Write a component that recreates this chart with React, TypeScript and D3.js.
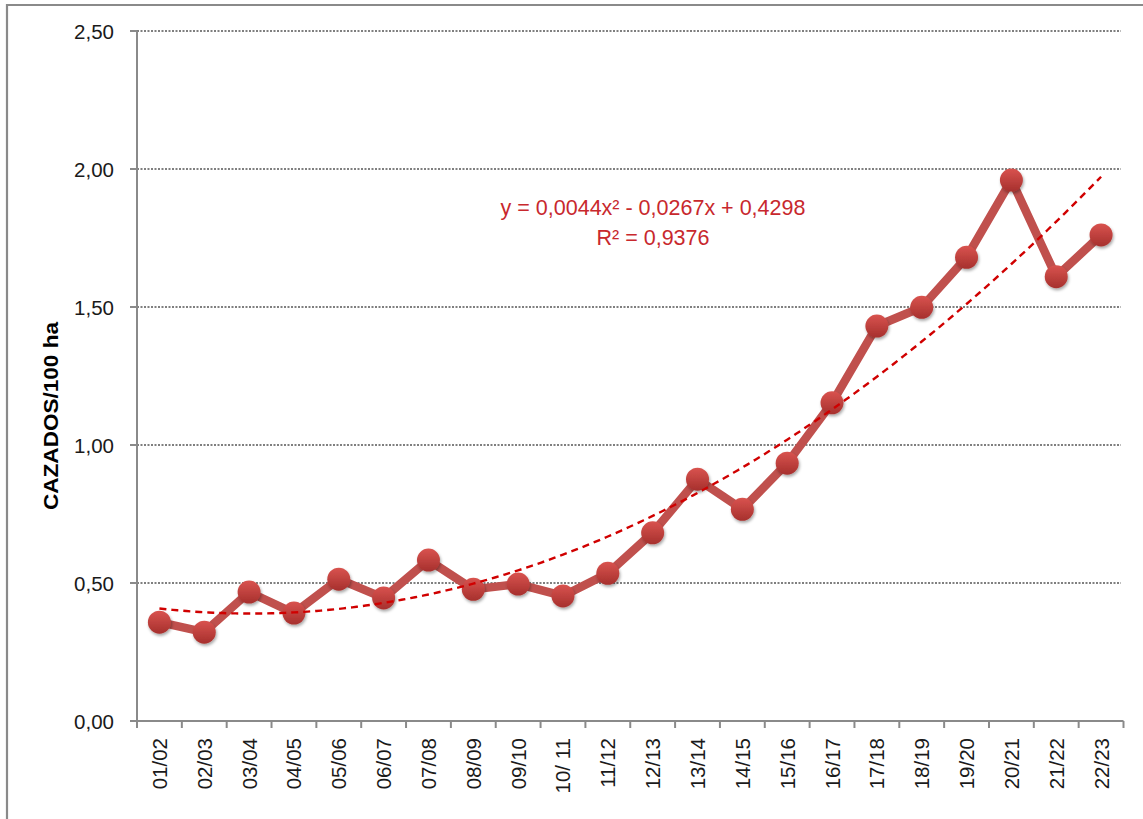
import React from "react";
import * as d3 from "d3";

const seasons = ["01/02","02/03","03/04","04/05","05/06","06/07","07/08","08/09","09/10","10/ 11","11/12","12/13","13/14","14/15","15/16","16/17","17/18","18/19","19/20","20/21","21/22","22/23"];
const cazados = [0.358,0.322,0.467,0.391,0.514,0.446,0.583,0.477,0.496,0.453,0.535,0.682,0.876,0.767,0.934,1.153,1.431,1.499,1.680,1.960,1.610,1.761];
const yTicks = [0,0.5,1,1.5,2,2.5];
const trendCoef = [0.0044,-0.0267,0.4298];
const eqLine1 = "y = 0,0044x² - 0,0267x + 0,4298";
const eqLine2 = "R² = 0,9376";
const yTitle = "CAZADOS/100 ha";

const W = 1143, H = 819;
const left = 137, right = 1123.5, top = 31, bottom = 721;

export default function App() {
  const x = d3.scaleBand<string>().domain(seasons).range([left, right]).padding(0);
  const y = d3.scaleLinear().domain([0, 2.5]).range([bottom, top]);
  const cx = (s: string) => (x(s) as number) + x.bandwidth() / 2;
  const fmt = (v: number) => v.toFixed(2).replace(".", ",");

  const line = d3.line<number>().x((_, i) => cx(seasons[i])).y((v) => y(v));
  const xi = d3.scaleLinear().domain([1, seasons.length]).range([cx(seasons[0]), cx(seasons[seasons.length - 1])]);
  const trendPts: [number, number][] = d3.range(1, seasons.length + 0.001, 0.1).map((t) => {
    const v = trendCoef[0] * t * t + trendCoef[1] * t + trendCoef[2];
    return [xi(t), y(v)];
  });
  const trendPath = d3.line()(trendPts) as string;
  const bounds = [...seasons.map((s) => x(s) as number), right];

  return (
    <svg width={W} height={H} style={{ position: "absolute", left: 0, top: 0, background: "#fff" }}
      fontFamily="'Liberation Sans', Arial, sans-serif">
      <defs>
        <linearGradient id="mk" x1="0" y1="0" x2="0" y2="1">
          <stop offset="0" stopColor="#D9534F" />
          <stop offset="1" stopColor="#A6302D" />
        </linearGradient>
        <filter id="sh" x="-50%" y="-50%" width="200%" height="200%">
          <feDropShadow dx="1" dy="2" stdDeviation="1.6" floodColor="#000" floodOpacity="0.35" />
        </filter>
      </defs>
      <rect x={0} y={0} width={W} height={H} fill="#fff" />
      <path d={`M7,${H + 5} L7,5 L${W + 5},5`} fill="none" stroke="#8a8a8a" strokeWidth={2.2} />

      {yTicks.filter((t) => t > 0).map((t) => (
        <line key={"g" + t} x1={left} x2={1121} y1={y(t)} y2={y(t)} stroke="#7f7f7f" strokeWidth={1.8} strokeDasharray="2 1.5" />
      ))}

      <line x1={left} x2={left} y1={top} y2={bottom} stroke="#8a8a8a" strokeWidth={2} />
      <line x1={left} x2={right} y1={bottom} y2={bottom} stroke="#8a8a8a" strokeWidth={2} />
      {yTicks.map((t) => (
        <g key={"y" + t}>
          <line x1={130} x2={left} y1={y(t)} y2={y(t)} stroke="#8a8a8a" strokeWidth={2} />
          <text x={114} y={y(t)} textAnchor="end" dominantBaseline="central" fontSize={20.5} fill="#1a1a1a">{fmt(t)}</text>
        </g>
      ))}
      {bounds.map((b, i) => (
        <line key={"xt" + i} x1={b} x2={b} y1={bottom} y2={bottom + 7} stroke="#8a8a8a" strokeWidth={2} />
      ))}
      {seasons.map((s) => (
        <text key={"xl" + s} transform={`translate(${cx(s)},738) rotate(-90)`} textAnchor="end" dominantBaseline="central" fontSize={20.5} fill="#1a1a1a">{s}</text>
      ))}

      <text transform="translate(51,416) rotate(-90)" textAnchor="middle" dominantBaseline="central" fontSize={20} fontWeight="bold" fill="#000" textLength={188} lengthAdjust="spacingAndGlyphs">{yTitle}</text>

      <path d={line(cazados) as string} fill="none" stroke="#C0504D" strokeWidth={8.5} strokeLinejoin="round" strokeLinecap="round" />
      {cazados.map((v, i) => (
        <circle key={"m" + i} cx={cx(seasons[i])} cy={y(v)} r={11.5} fill="url(#mk)" filter="url(#sh)" />
      ))}
      <path d={trendPath} fill="none" stroke="#D00000" strokeWidth={2.4} strokeDasharray="7 5" />

      <text x={653} y={215} textAnchor="middle" fontSize={21.5} fill="#C8282D">{eqLine1}</text>
      <text x={653} y={245} textAnchor="middle" fontSize={21.5} fill="#C8282D">{eqLine2}</text>
    </svg>
  );
}
